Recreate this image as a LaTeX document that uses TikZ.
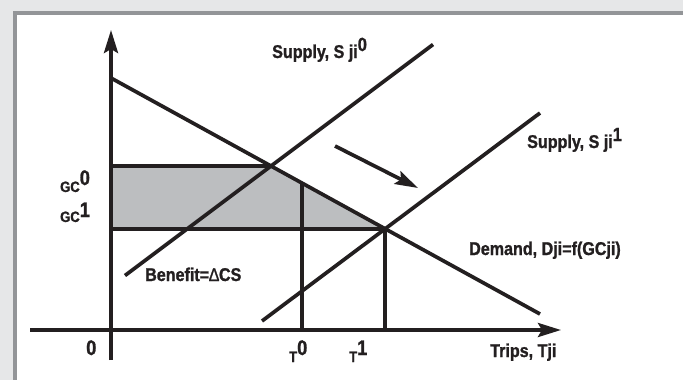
\documentclass[tikz,border=0pt]{standalone}
\usepackage{fontspec}
\setmainfont{Liberation Sans}
\newfontfamily\lblfont{Liberation Sans}[FakeStretch=0.87,FakeBold=1.2]
\usetikzlibrary{arrows.meta}
\definecolor{outerbg}{HTML}{E6E7E8}
\definecolor{framegray}{HTML}{939598}
\definecolor{shadegray}{HTML}{BCBEC0}
\definecolor{ink}{HTML}{231F20}
\begin{document}
\begin{tikzpicture}[x=1pt,y=-1pt,
  ln/.style={draw=ink, line width=3.7pt},
  axarrow/.style={-{Stealth[length=23pt,width=14pt,inset=4pt]}},
  lbl/.style={font=\lblfont\bfseries\fontsize{18.5}{18.5}\selectfont, text=ink, inner sep=0pt, anchor=base west},
  sml/.style={font=\lblfont\bfseries\fontsize{15}{15}\selectfont, text=ink, inner sep=0pt, anchor=base west},
  big/.style={font=\lblfont\bfseries\fontsize{21}{21}\selectfont, text=ink, inner sep=0pt, anchor=base west}
]
\useasboundingbox (0,0) rectangle (683,380);
% background panel
\fill[outerbg] (0,0) rectangle (683,380);
\fill[framegray] (13,11) rectangle (683,380);
\fill[white] (17,15) rectangle (683,380);

% coordinates
\coordinate (ytop) at (111,30);
\coordinate (ybot) at (111,360);
\coordinate (xl) at (30,330);
\coordinate (xr) at (561,330);
\coordinate (D0) at (111,78);
\coordinate (D1) at (540,314);
\coordinate (E0) at (271,166);
\coordinate (E1) at (385,229);
\coordinate (G0) at (111,166);
\coordinate (G1) at (111,229);
\coordinate (S0a) at (125,275.5);
\coordinate (S0b) at (433,44.5);
\coordinate (S1a) at (262,321);
\coordinate (S1b) at (540,113);
\coordinate (T0top) at (302,183.3);
\coordinate (T0bot) at (302,330);
\coordinate (T1bot) at (385,330);
\coordinate (ArA) at (335,146);
\coordinate (ArB) at (418,188);

% shaded benefit area
\fill[shadegray] (G0) -- (E0) -- (E1) -- (G1) -- cycle;

% lines
\draw[ln] (G0) -- (E0);
\draw[ln] (G1) -- (E1);
\draw[ln] (T0top) -- (T0bot);
\draw[ln] (E1) -- (T1bot);
\draw[ln] (D0) -- (D1);
\draw[ln] (S0a) -- (S0b);
\draw[ln] (S1a) -- (S1b);
\draw[ln, axarrow] (ybot) -- (ytop);
\draw[ln, axarrow] (xl) -- (xr);
\draw[ln, axarrow] (ArA) -- (ArB);

% labels
\node[lbl] (s0lbl) at (272,58) {Supply, S ji\raisebox{7pt}{\fontsize{19}{19}\selectfont 0}};
\node[lbl] (s1lbl) at (527,148) {Supply, S ji\raisebox{7pt}{\fontsize{19}{19}\selectfont 1}};
\node[lbl] (dlbl) at (469,255) {Demand, Dji=f(GCji)};
\node[lbl] (blbl) at (145,281) {Benefit={\mdseries ∆}CS};
\node[lbl] (tlbl) at (490,357) {Trips, Tji};
\node[big] (zero) at (86,355) {0};
\node[sml] (gc0) at (60,192) {GC\raisebox{7pt}{\fontsize{21}{21}\selectfont 0}};
\node[sml] (gc1) at (60,222) {GC\raisebox{5pt}{\fontsize{21}{21}\selectfont 1}};
\node[sml] (t0) at (289,362) {T\raisebox{7pt}{\fontsize{21}{21}\selectfont 0}};
\node[sml] (t1) at (349,362) {T\raisebox{7pt}{\fontsize{21}{21}\selectfont 1}};
\end{tikzpicture}
\end{document}
